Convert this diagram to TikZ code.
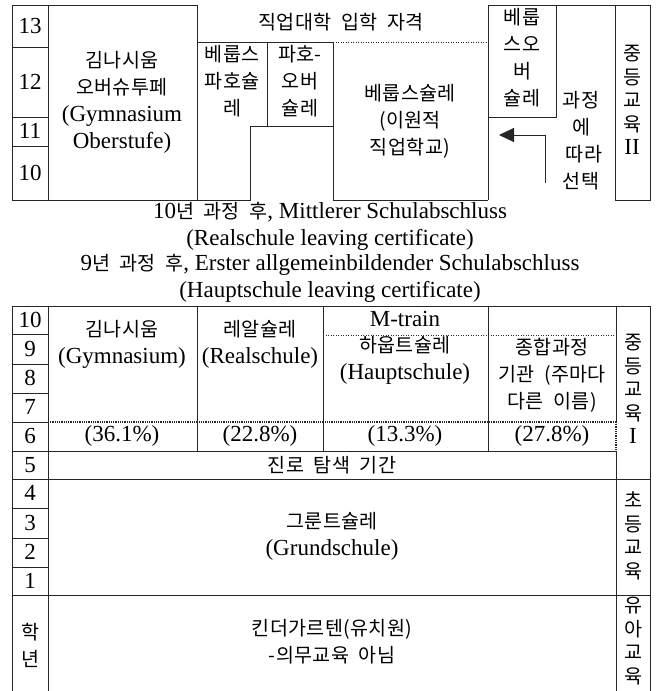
\documentclass[tikz,border=0pt]{standalone}
\usepackage{fontspec}
\setmainfont{Liberation Serif}
\newfontfamily\kr[Scale=0.85,LetterSpace=2,WordSpace=2]{Noto Sans CJK KR}
\newcommand\K[1]{{\kr #1}}
\usetikzlibrary{arrows.meta}
\tikzset{
  ln/.style={line width=1pt, draw=black!85},
  dl/.style={line width=1pt, draw=black!85, dash pattern=on 1pt off 1.5pt},
  dlsix/.style={line width=1.8pt, draw=black!85, dash pattern=on 1pt off 0.8pt},
  tx/.style={font=\fontsize{23}{27}\selectfont, align=center, inner sep=0pt},
  vt/.style={font=\fontsize{23}{23.5}\selectfont, align=center, inner sep=0pt},
}
\begin{document}
\begin{tikzpicture}[x=1pt,y=-1pt]
\useasboundingbox[fill=white] (0,0) rectangle (656,691);
% ---------- upper part ----------
\draw[ln] (12,5) -- (197,5);
\draw[ln] (12,5) -- (12,200) -- (250,200) -- (250,126) -- (333,126);
\draw[ln] (48,5) -- (48,200);
\draw[ln] (12,47) -- (48,47);
\draw[ln] (12,117) -- (48,117);
\draw[ln] (12,146) -- (48,146);
\draw[ln] (197,5) -- (197,200);
\draw[ln] (197,42) -- (333,42);
\draw[dl] (333,42) -- (488,42);
\draw[ln] (267,42) -- (267,126);
\draw[ln] (333,42) -- (333,200) -- (488,200);
\draw[ln] (488,5) -- (488,200);
\draw[ln] (488,5) -- (650,5);
\draw[ln] (488,117) -- (556,117) -- (556,5);
\draw[ln] (615,5) rectangle (650,200);
\coordinate (a0) at (545,183);
\coordinate (a1) at (545,135);
\coordinate (a2) at (499,135);
\draw[ln, -{Triangle[length=15pt,width=14pt]}] (a0) -- (a1) -- (a2);

\node[tx] (y13) at (30,26) {13};
\node[tx] (y12) at (30,82) {12};
\node[tx] (y11) at (30,131) {11};
\node[tx] (y10) at (30,173) {10};
\node[tx] (gymo) at (122,102) {\K{김나시움}\\\K{오버슈투페}\\(Gymnasium\\Oberstufe)};
\node[tx] (fhr) at (341,22) {\K{직업대학 입학 자격}};
\node[tx] (bfs) at (232,81) {\K{베룹스}\\\K{파호슐}\\\K{레}};
\node[tx] (fos) at (300,81) {\K{파호-}\\\K{오버}\\\K{슐레}};
\node[tx] (bs) at (410,121) {\K{베룹스슐레}\\\K{(이원적}\\\K{직업학교)}};
\node[tx] (bos) at (522,58) {\K{베룹}\\\K{스오}\\\K{버}\\\K{슐레}};
\node[tx] (wahl) at (581,141) {\K{과정}\\\K{에}\\\hspace{6pt}\K{따라}\\\K{선택}};
\node[vt] (sek2) at (632,100) {\K{중}\\\K{등}\\\K{교}\\\K{육}\\II};

% ---------- middle text ----------
\node[tx] (msa) at (330,226) {10\K{년 과정 후}, Mittlerer Schulabschluss\\(Realschule leaving certificate)};
\node[tx] (esa) at (330,278) {9\K{년 과정 후}, Erster allgemeinbildender Schulabschluss\\(Hauptschule leaving certificate)};

% ---------- lower part ----------
\draw[ln] (12,306) -- (650,306);
\draw[ln] (12,306) -- (12,691);
\draw[ln] (48,306) -- (48,691);
\draw[ln] (650,306) -- (650,691);
\draw[ln] (616,306) -- (616,422);
\draw[ln] (616,451) -- (616,691);
\draw[dlsix] (616,422) -- (616,451);
\draw[ln] (197,306) -- (197,451);
\draw[ln] (323,306) -- (323,451);
\draw[ln] (488,306) -- (488,451);
\draw[dl] (323,335) -- (616,335);
\draw[dlsix] (48,422) -- (616,422);
\draw[ln] (12,451) -- (616,451);
\foreach \yy in {334,364,393,422,508,538,567}
  \draw[ln] (12,\yy) -- (48,\yy);
\draw[ln] (12,479) -- (650,479);
\draw[ln] (12,595) -- (650,595);

\node[tx] (l10) at (30,320) {10};
\node[tx] (l9) at (30,349) {9};
\node[tx] (l8) at (30,378) {8};
\node[tx] (l7) at (30,407) {7};
\node[tx] (l6) at (30,436) {6};
\node[tx] (l5) at (30,465) {5};
\node[tx] (l4) at (30,493) {4};
\node[tx] (l3) at (30,523) {3};
\node[tx] (l2) at (30,552) {2};
\node[tx] (l1) at (30,581) {1};
\node[tx] (hak) at (30,645) {\K{학}\\\K{년}};

\node[tx] (gym) at (122,344) {\K{김나시움}\\(Gymnasium)};
\node[tx] (real) at (260,344) {\K{레알슐레}\\(Realschule)};
\node[tx] (mtr) at (405,319) {M-train};
\node[tx] (haupt) at (405,360) {\K{하웁트슐레}\\(Hauptschule)};
\node[tx] (ges) at (552,375) {\K{종합과정}\\\K{기관 (주마다}\\\K{다른 이름)}};
\node[tx] (p1) at (122,436) {(36.1\%)};
\node[tx] (p2) at (260,436) {(22.8\%)};
\node[tx] (p3) at (405,436) {(13.3\%)};
\node[tx] (p4) at (552,436) {(27.8\%)};
\node[vt] (sek1) at (633,389) {\K{중}\\\K{등}\\\K{교}\\\K{육}\\I};
\node[tx] (orient) at (332,465) {\K{진로 탐색 기간}};
\node[tx] (grund) at (332,536) {\K{그룬트슐레}\\(Grundschule)};
\node[vt] (prim) at (633,536) {\K{초}\\\K{등}\\\K{교}\\\K{육}};
\node[tx] (kita) at (332,642) {\K{킨더가르텐(유치원)}\\\K{-의무교육 아님}};
\node[vt] (elem) at (633,641) {\K{유}\\\K{아}\\\K{교}\\\K{육}};
\end{tikzpicture}
\end{document}
